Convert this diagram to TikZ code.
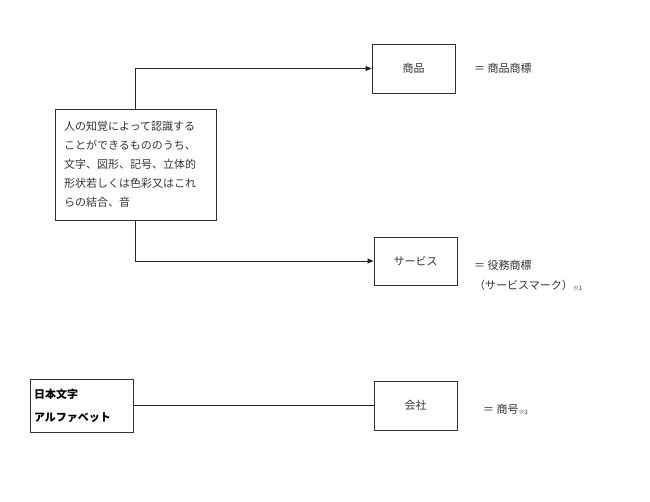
\documentclass[tikz,border=0pt]{standalone}
\usepackage{fontspec}
\newfontfamily\jp{Noto Sans CJK JP}
\usetikzlibrary{arrows.meta}
\begin{document}
\begin{tikzpicture}[x=1pt,y=-1pt,
  box/.style={draw=black!80, line width=0.8pt, font=\jp\fontsize{11}{19}\selectfont, text=black!80, inner sep=0pt},
  lbl/.style={font=\jp\fontsize{11}{19}\selectfont, text=black!80, inner sep=0pt, anchor=west},
  conn/.style={draw=black!85, line width=0.7pt},
  arr/.style={conn, -{Triangle[length=6pt,width=5pt]}}]
\useasboundingbox (0,0) rectangle (650,502);
\node[box, minimum width=161pt, minimum height=111pt, text width=143pt, align=left] (def) at (135.5,164.5)
  {人の知覚によって認識する\\ことができるもののうち、\\文字、図形、記号、立体的\\形状若しくは色彩又はこれ\\らの結合、音};
\node[box, minimum width=83pt, minimum height=49pt] (goods) at (413.5,68.5) {商品};
\node[box, minimum width=83pt, minimum height=48pt] (serv) at (415.5,261) {サービス};
\node[box, minimum width=103pt, minimum height=53pt, text width=95pt, align=left, font=\jp\bfseries\fontsize{11}{23}\selectfont, text=black] (jp) at (81.5,405.5) {日本文字\\アルファベット};
\node[box, minimum width=83pt, minimum height=49pt] (co) at (415.5,405.5) {会社};
\node[lbl] (l1) at (474,68.5) {＝ 商品商標};
\node[lbl] (l2) at (474,265) {＝ 役務商標};
\node[lbl] (l3) at (474,285) {（サービスマーク）\raisebox{-1pt}{\fontsize{6}{6}\selectfont ※1}};
\node[lbl] (l4) at (483,409) {＝ 商号\raisebox{-1pt}{\fontsize{6}{6}\selectfont ※2}};
\coordinate (c1) at (135,68.5);
\coordinate (c2) at (135,261);
\draw[arr] (def.north -| c1) -- (c1) -- (goods.west);
\draw[arr] (def.south -| c2) -- (c2) -- (serv.west);
\draw[conn] (jp.east) -- (co.west);
\end{tikzpicture}
\end{document}
